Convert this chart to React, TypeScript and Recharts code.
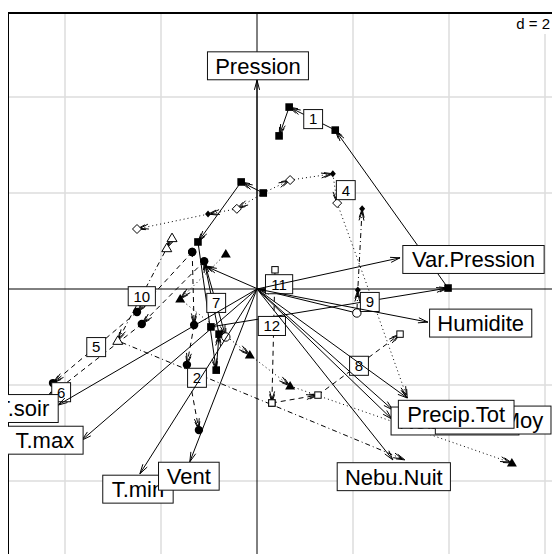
import React from 'react';
import { ComposedChart, XAxis, YAxis, ReferenceLine, ReferenceDot } from 'recharts';

// ---- Variables: arrow tips on the factorial plane and their label anchors ----
const variableNames = ['Pression', 'Var.Pression', 'Humidite', 'Nebu.Matin', 'Nebu.Moy', 'Precip.Tot', 'Nebu.Nuit', 'T.min', 'Vent', 'T.max', 'T.soir'];
const variableX = [0, 2.98, 3.56, 2.83, 2.81, 3.13, 2.83, -2.44, -1.4, -3.65, -4.15];
const variableY = [4.35, 0.65, -0.69, -2.52, -2.71, -2.27, -3.56, -3.85, -3.6, -3.15, -2.42];
const variableLabelX = [0.02, 4.51, 4.66, 4.125, 4.92, 4.15, 2.85, -2.48, -1.42, -4.42, -4.875];
const variableLabelY = [4.65, 0.615, -0.71, -2.75, -2.73, -2.61, -3.91, -4.17, -3.9, -3.15, -2.49];

// ---- Trajectories (one per month) ----
const trajectoryNames = ['1', '2', '3', '4', '5', '6', '7', '8', '9', '10', '11', '12', ''];
const trajectoryX = [
  [-0.96, 3.98, 1.63, 0.67, 0.46],
  [-1.35, -1.31, -1.46, -1.21],
  [-0.65, -1.6, -0.15, 0.69, 5.31],
  [0.13, 0.69, 1.58, 1.67, 2.48, 3.13],
  [-1.35, -2.5, -4.25],
  [-1.1, -2.4, -4.4],
  [0.13, -0.33, -1.23, -0.85, -0.79, -1.1, -0.65],
  [0.31, 1.27, 2.98],
  [2.08, 2.1, 2.19],
  [-1.77, -1.88, -2.9, 3.08],
  [2.08, 0.02, -1.08],
  [0.375, 0.31],
  [0.13, -0.42, -1.02, -2.5],
];
const trajectoryY = [
  [-0.79, 0.02, 3.31, 3.79, 3.19],
  [0.77, -0.75, -1.58, -2.94],
  [0.73, -0.21, -1.375, -2.02, -3.625],
  [2.0, 2.27, 2.4, 1.79, -0.44, -2.27],
  [0.77, -0.48, -1.96],
  [0.58, -0.73, -2.29],
  [2.0, 2.23, 0.98, -1.69, -0.94, 0.58, -1.0],
  [-2.375, -2.21, -0.94],
  [-0.5, -0.02, 1.67],
  [1.06, 0.85, -1.08, -3.56],
  [-0.5, 0.0, 0.48],
  [0.4, -2.375],
  [2.0, 1.67, 1.56, 1.25],
];
const trajectoryLabelX = [1.17, -1.25, 3.0, 1.85, -3.35, -4.08, -0.85, 2.125, 2.35, -2.4, 0.46, 0.31, 0];
const trajectoryLabelY = [3.54, -1.85, -2.82, 2.06, -1.21, -2.15, -0.29, -1.6, -0.27, -0.15, 0.1, -0.77, 0];

// ---- Grid ----
const gridX = [-4, -2, 2, 4, 6];
const gridY = [-4, -2, 2, 4];
const scaleNote = 'd = 2';

// ---- Styles ----
const FONT = '"Liberation Sans", Arial, Helvetica, sans-serif';
const X_DOMAIN: [number, number] = [-5.1875, 6.1458];
const Y_DOMAIN: [number, number] = [-5.5208, 5.75];

const dashOf: Record<string, string | undefined> = {
  solid: undefined,
  dashed: '5 4',
  dotted: '1 3',
  dotdash: '1 3 5 3',
};
const trajectoryLty = ['solid', 'dashed', 'dotted', 'dotted', 'dashed', 'dashed', 'solid', 'dashed', 'dotdash', 'dotdash', 'solid', 'dashed', 'dotted'];
const trajectoryPch: string[][] = [
  ['sq', 'sq', 'sq', 'sq', 'sq'],
  ['ci', 'ci', 'ci', 'ci'],
  ['ft', 'ft', 'ft', 'ft', 'ft'],
  ['', 'od', 'fd', 'od', '', ''],
  ['ci', 'ci', 'ci'],
  ['ci', 'ci', ''],
  ['sq', 'sq', 'sq', 'sq', 'sq', '', 'oc'],
  ['os', 'os', 'os'],
  ['oc', 'fd', 'fd'],
  ['ot', 'ot', 'ot', ''],
  ['', '', ''],
  ['os', 'os'],
  ['', 'od', 'fd', 'od'],
];

// Arial / Liberation Sans advance widths (em units)
const W: Record<string, number> = {
  ' ': 0.278, '.': 0.278, '=': 0.584,
  '0': 0.556, '1': 0.556, '2': 0.556, '3': 0.556, '4': 0.556, '5': 0.556, '6': 0.556, '7': 0.556, '8': 0.556, '9': 0.556,
  H: 0.722, M: 0.833, N: 0.722, P: 0.667, T: 0.611, V: 0.667,
  a: 0.556, b: 0.556, c: 0.5, d: 0.556, e: 0.556, i: 0.222, m: 0.833, n: 0.556, o: 0.556, p: 0.556,
  r: 0.333, s: 0.5, t: 0.278, u: 0.556, x: 0.5, y: 0.5,
};
const textWidth = (s: string, fs: number) => s.split('').reduce((a, c) => a + (W[c] ?? 0.556), 0) * fs;

function headPath(x1: number, y1: number, x2: number, y2: number, len: number, deg: number) {
  const a = Math.atan2(y2 - y1, x2 - x1);
  const t = (deg * Math.PI) / 180;
  const ax = x2 - len * Math.cos(a - t);
  const ay = y2 - len * Math.sin(a - t);
  const bx = x2 - len * Math.cos(a + t);
  const by = y2 - len * Math.sin(a + t);
  return `M${ax},${ay}L${x2},${y2}L${bx},${by}`;
}

function LabelBox({ cx, cy, text, fs }: { cx: number; cy: number; text: string; fs: number }) {
  const w = textWidth(text, fs) + 0.7 * fs;
  const h = 1.27 * fs;
  return (
    <g>
      <rect x={cx - w / 2} y={cy - h / 2} width={w} height={h} fill="#fff" stroke="#111" strokeWidth={1} />
      <text x={cx} y={cy + 0.36 * fs} textAnchor="middle" fontSize={fs} fontFamily={FONT} fill="#000">
        {text}
      </text>
    </g>
  );
}

function Marker({ cx, cy, kind }: { cx: number; cy: number; kind: string }) {
  switch (kind) {
    case 'sq':
      return <rect x={cx - 3.8} y={cy - 3.8} width={7.6} height={7.6} fill="#000" />;
    case 'ci':
      return <circle cx={cx} cy={cy} r={4.2} fill="#000" />;
    case 'ft':
      return <path d={`M${cx},${cy - 5}L${cx + 5},${cy + 3.5}L${cx - 5},${cy + 3.5}Z`} fill="#000" />;
    case 'ot':
      return <path d={`M${cx},${cy - 5}L${cx + 5},${cy + 3.5}L${cx - 5},${cy + 3.5}Z`} fill="#fff" stroke="#000" strokeWidth={1} />;
    case 'od':
      return <path d={`M${cx},${cy - 4.5}L${cx + 4.5},${cy}L${cx},${cy + 4.5}L${cx - 4.5},${cy}Z`} fill="#fff" stroke="#000" strokeWidth={1} />;
    case 'fd':
      return <path d={`M${cx},${cy - 3.5}L${cx + 3},${cy}L${cx},${cy + 3.5}L${cx - 3},${cy}Z`} fill="#000" />;
    case 'oc':
      return <circle cx={cx} cy={cy} r={4.2} fill="#fff" stroke="#000" strokeWidth={1} />;
    case 'os':
      return <rect x={cx - 3.2} y={cy - 3.2} width={6.4} height={6.4} fill="#fff" stroke="#000" strokeWidth={1} />;
    default:
      return <g />;
  }
}

export default function App() {
  const layers: React.ReactNode[] = [];

  // grid
  gridX.forEach((g) =>
    layers.push(<ReferenceLine key={`gx${g}`} x={g} stroke="#dcdcdc" strokeWidth={1.5} ifOverflow="visible" />),
  );
  gridY.forEach((g) =>
    layers.push(<ReferenceLine key={`gy${g}`} y={g} stroke="#dcdcdc" strokeWidth={1.5} ifOverflow="visible" />),
  );
  // axes through the origin and the frame
  layers.push(<ReferenceLine key="ax0" x={0} stroke="#000" strokeWidth={1} ifOverflow="visible" />);
  layers.push(<ReferenceLine key="ay0" y={0} stroke="#000" strokeWidth={1} ifOverflow="visible" />);
  layers.push(<ReferenceLine key="fl" x={X_DOMAIN[0]} stroke="#000" strokeWidth={2} ifOverflow="visible" />);
  layers.push(<ReferenceLine key="ft" y={Y_DOMAIN[1]} stroke="#000" strokeWidth={2} ifOverflow="visible" />);

  // trajectory segments with arrowheads
  trajectoryX.forEach((xs, k) => {
    const ys = trajectoryY[k];
    const dash = dashOf[trajectoryLty[k]];
    for (let i = 1; i < xs.length; i++) {
      layers.push(
        <ReferenceLine
          key={`seg${k}-${i}`}
          segment={[{ x: xs[i - 1], y: ys[i - 1] }, { x: xs[i], y: ys[i] }]}
          ifOverflow="visible"
          shape={(p: any) => {
            const { x1, y1, x2, y2 } = p;
            const a = Math.atan2(y2 - y1, x2 - x1);
            const bx = x2 - 3 * Math.cos(a);
            const by = y2 - 3 * Math.sin(a);
            return (
              <g>
                <line x1={x1} y1={y1} x2={x2} y2={y2} stroke="#000" strokeWidth={1} strokeDasharray={dash} />
                <path d={headPath(x1, y1, x2, y2, 9, 16)} fill="none" stroke="#000" strokeWidth={1} />
                <path d={headPath(x1, y1, bx, by, 9, 16)} fill="none" stroke="#000" strokeWidth={1} />
              </g>
            );
          }}
        />,
      );
    }
  });

  // trajectory points
  trajectoryX.forEach((xs, k) => {
    xs.forEach((x, i) => {
      const kind = trajectoryPch[k][i];
      if (!kind) return;
      const y = trajectoryY[k][i];
      layers.push(
        <ReferenceLine
          key={`pt${k}-${i}`}
          segment={[{ x, y }, { x, y }]}
          ifOverflow="visible"
          shape={(p: any) => <Marker cx={p.x1} cy={p.y1} kind={kind} />}
        />,
      );
    });
  });

  // trajectory labels
  trajectoryNames.forEach((name, k) => {
    if (!name) return;
    const x = trajectoryLabelX[k];
    const y = trajectoryLabelY[k];
    layers.push(
      <ReferenceLine
        key={`tl${k}`}
        segment={[{ x, y }, { x, y }]}
        ifOverflow="visible"
        shape={(p: any) => <LabelBox cx={p.x1} cy={p.y1} text={name} fs={15} />}
      />,
    );
  });

  // variable arrows from the origin
  variableNames.forEach((name, k) => {
    layers.push(
      <ReferenceLine
        key={`va${k}`}
        segment={[{ x: 0, y: 0 }, { x: variableX[k], y: variableY[k] }]}
        ifOverflow="visible"
        shape={(p: any) => {
          const { x1, y1, x2, y2 } = p;
          return (
            <g>
              <line x1={x1} y1={y1} x2={x2} y2={y2} stroke="#000" strokeWidth={1} />
              <path d={headPath(x1, y1, x2, y2, 10, 15)} fill="none" stroke="#000" strokeWidth={1} />
            </g>
          );
        }}
      />,
    );
  });

  // variable labels on top
  const labels = variableNames.map((name, k) => (
    <ReferenceDot
      key={`vl${k}`}
      x={variableLabelX[k]}
      y={variableLabelY[k]}
      ifOverflow="visible"
      shape={(p: any) => <LabelBox cx={p.cx} cy={p.cy} text={name} fs={22} />}
    />
  ));

  return (
    <div style={{ position: 'absolute', left: 8, top: 8, width: 544, height: 546, overflow: 'hidden' }}>
      <ComposedChart width={544} height={546} data={[]} margin={{ top: 5, right: 0, bottom: 0, left: 0 }}>
        <XAxis type="number" dataKey="x" domain={X_DOMAIN} allowDataOverflow hide />
        <YAxis type="number" dataKey="y" domain={Y_DOMAIN} allowDataOverflow hide />
        {layers}
        {labels}
        <ReferenceDot
          x={X_DOMAIN[1]}
          y={Y_DOMAIN[1]}
          ifOverflow="visible"
          shape={(p: any) => (
            <g>
              <rect x={p.cx - 38} y={p.cy + 1} width={38} height={20} fill="#fff" />
              <text x={p.cx - 2} y={p.cy + 16} textAnchor="end" fontSize={15} fontFamily={FONT} fill="#000">
                {scaleNote}
              </text>
            </g>
          )}
        />
      </ComposedChart>
    </div>
  );
}
